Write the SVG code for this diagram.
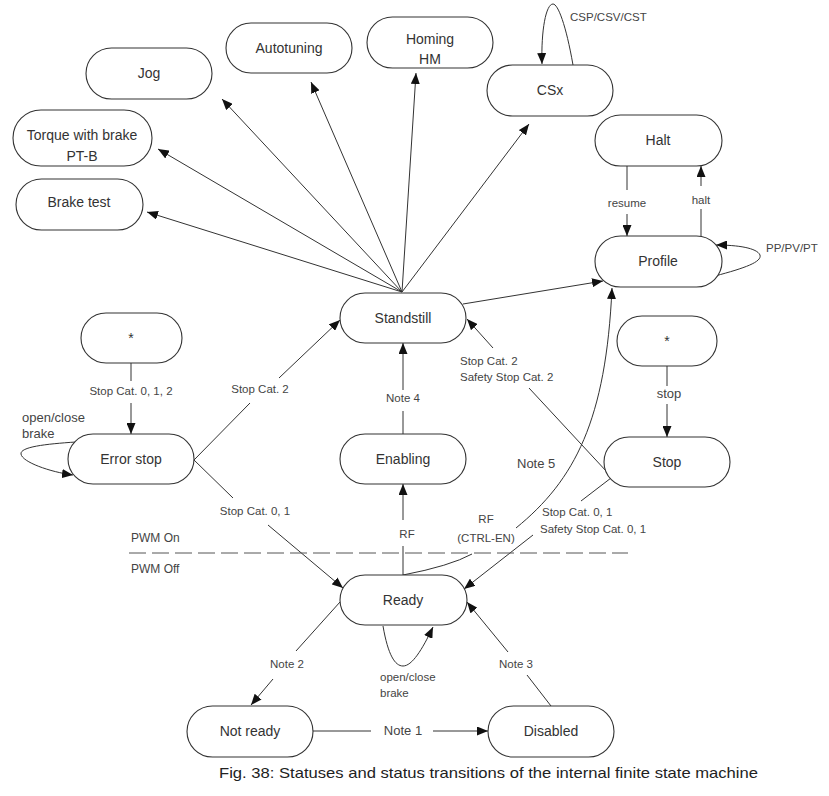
<svg xmlns="http://www.w3.org/2000/svg" width="829" height="796" viewBox="0 0 829 796">
<defs>
<style>
.n rect{fill:#fff;stroke:#333;stroke-width:1.1}
.t{font-family:"Liberation Sans",Arial,sans-serif;font-size:14px;fill:#333;text-anchor:middle}
.l{font-family:"Liberation Sans",Arial,sans-serif;font-size:11.5px;fill:#444}
.lm{text-anchor:middle}
.b{font-size:13px}
#edges path,#edges line{fill:none;stroke:#333;stroke-width:1}
</style>
<marker id="a" markerUnits="userSpaceOnUse" markerWidth="12" markerHeight="9" refX="11" refY="4.5" orient="auto">
<path d="M0,0 L11,4.5 L0,9 z" fill="#111"/>
</marker>
</defs>
<rect width="829" height="796" fill="#fff"/>

<g id="edges">
<line x1="402" y1="292" x2="147" y2="212" marker-end="url(#a)"/>
<line x1="402" y1="292" x2="158" y2="149" marker-end="url(#a)"/>
<line x1="402" y1="292" x2="222" y2="99" marker-end="url(#a)"/>
<line x1="402" y1="292" x2="311" y2="82" marker-end="url(#a)"/>
<line x1="402" y1="292" x2="416" y2="73" marker-end="url(#a)"/>
<line x1="402" y1="292" x2="529" y2="124" marker-end="url(#a)"/>
<line x1="463" y1="304" x2="603" y2="281" marker-end="url(#a)"/>
<path d="M573,65 C566,25 558,4 553,4 C546,4 541,30 542,64" marker-end="url(#a)"/>
<line x1="627" y1="166" x2="627" y2="190"/>
<line x1="627" y1="214" x2="627" y2="236" marker-end="url(#a)"/>
<line x1="701" y1="236" x2="701" y2="209"/>
<line x1="701" y1="186" x2="701" y2="166" marker-end="url(#a)"/>
<path d="M715,276 C745,268 762,262 760,255 C757,248 738,245 716,245" marker-end="url(#a)"/>
<line x1="131" y1="363" x2="131" y2="381"/>
<line x1="131" y1="403" x2="131" y2="434" marker-end="url(#a)"/>
<path d="M76,442 C45,444 20,447 21,454 C22,462 50,472 73,475" marker-end="url(#a)"/>
<line x1="194" y1="460" x2="250" y2="403"/>
<line x1="279" y1="378" x2="340" y2="320" marker-end="url(#a)"/>
<line x1="194" y1="460" x2="233" y2="498"/>
<line x1="268" y1="525" x2="343" y2="588" marker-end="url(#a)"/>
<line x1="403" y1="434" x2="403" y2="411"/>
<line x1="403" y1="390" x2="403" y2="343" marker-end="url(#a)"/>
<line x1="403" y1="575" x2="403" y2="546"/>
<line x1="403" y1="520" x2="403" y2="484" marker-end="url(#a)"/>
<path d="M403,575 Q450,566 472,554"/>
<path d="M516,528 C575,480 606,420 612,288" marker-end="url(#a)"/>
<line x1="607" y1="472" x2="529" y2="388"/>
<line x1="493" y1="348" x2="467" y2="319" marker-end="url(#a)"/>
<line x1="611" y1="478" x2="581" y2="501"/>
<line x1="533" y1="535" x2="464" y2="589" marker-end="url(#a)"/>
<line x1="667" y1="366" x2="667" y2="386"/>
<line x1="667" y1="404" x2="667" y2="437" marker-end="url(#a)"/>
<line x1="340" y1="602" x2="296" y2="651"/>
<line x1="273" y1="679" x2="251" y2="705" marker-end="url(#a)"/>
<line x1="551" y1="706" x2="527" y2="675"/>
<line x1="508" y1="652" x2="467" y2="602" marker-end="url(#a)"/>
<line x1="313" y1="731" x2="371" y2="731"/>
<line x1="433" y1="731" x2="488" y2="731" marker-end="url(#a)"/>
<path d="M383,626 C388,655 395,666 403,666 C412,666 422,650 433,627" marker-end="url(#a)"/>
</g>

<line x1="129" y1="553" x2="628" y2="553" stroke="#555" stroke-width="1" stroke-dasharray="17 6"/>

<g id="n-jog" class="n"><rect x="86" y="48" width="126" height="51" rx="25.5"/><text class="t" x="149" y="78">Jog</text></g>
<g id="n-autotuning" class="n"><rect x="226" y="23" width="126" height="50" rx="25"/><text class="t" x="289" y="53">Autotuning</text></g>
<g id="n-homing" class="n"><rect x="367" y="17" width="126" height="51" rx="25.5"/><text class="t" x="430" y="44">Homing</text><text class="t" x="430" y="64">HM</text></g>
<g id="n-csx" class="n"><rect x="487" y="65" width="126" height="51" rx="25.5"/><text class="t" x="550" y="95">CSx</text></g>
<g id="n-halt" class="n"><rect x="595" y="115" width="127" height="51" rx="25.5"/><text class="t" x="658" y="145">Halt</text></g>
<g id="n-profile" class="n"><rect x="595" y="236" width="127" height="51" rx="25.5"/><text class="t" x="658" y="266">Profile</text></g>
<g id="n-torque" class="n"><rect x="13" y="110" width="139" height="56" rx="28"/><text class="t" x="82" y="140">Torque with brake</text><text class="t" x="82" y="161">PT-B</text></g>
<g id="n-braketest" class="n"><rect x="16" y="179" width="127" height="51" rx="25.5"/><text class="t" x="79" y="207">Brake test</text></g>
<g id="n-standstill" class="n"><rect x="340" y="293" width="126" height="50" rx="25"/><text class="t" x="403" y="323">Standstill</text></g>
<g id="n-star-left" class="n"><rect x="81" y="313" width="101" height="50" rx="25"/><text class="t" x="131" y="343">*</text></g>
<g id="n-errorstop" class="n"><rect x="68" y="434" width="126" height="50" rx="25"/><text class="t" x="131" y="464">Error stop</text></g>
<g id="n-enabling" class="n"><rect x="340" y="434" width="126" height="50" rx="25"/><text class="t" x="403" y="464">Enabling</text></g>
<g id="n-star-right" class="n"><rect x="617" y="316" width="100" height="50" rx="25"/><text class="t" x="667" y="346">*</text></g>
<g id="n-stop" class="n"><rect x="604" y="437" width="126" height="50" rx="25"/><text class="t" x="667" y="467">Stop</text></g>
<g id="n-ready" class="n"><rect x="340" y="575" width="127" height="50" rx="25"/><text class="t" x="403" y="605">Ready</text></g>
<g id="n-notready" class="n"><rect x="187" y="706" width="126" height="51" rx="25.5"/><text class="t" x="250" y="736">Not ready</text></g>
<g id="n-disabled" class="n"><rect x="488" y="706" width="126" height="51" rx="25.5"/><text class="t" x="551" y="736">Disabled</text></g>

<g id="labels">
<text class="l" x="570" y="21">CSP/CSV/CST</text>
<text class="l lm" x="627" y="207">resume</text>
<text class="l lm" x="701" y="204">halt</text>
<text class="l" x="766" y="252">PP/PV/PT</text>
<text class="l lm" x="131" y="395">Stop Cat. 0, 1, 2</text>
<text class="l b" x="22" y="422">open/close</text>
<text class="l b" x="22" y="438">brake</text>
<text class="l lm" x="260" y="393">Stop Cat. 2</text>
<text class="l lm" x="255" y="515">Stop Cat. 0, 1</text>
<text class="l lm" x="403" y="402">Note 4</text>
<text class="l lm" x="407" y="538">RF</text>
<text class="l lm" x="486" y="523">RF</text>
<text class="l lm" x="486" y="542">(CTRL-EN)</text>
<text class="l b" x="517" y="468">Note 5</text>
<text class="l" x="460" y="365">Stop Cat. 2</text>
<text class="l" x="460" y="381">Safety Stop Cat. 2</text>
<text class="l lm b" x="669" y="398">stop</text>
<text class="l" x="542" y="516">Stop Cat. 0, 1</text>
<text class="l" x="540" y="533">Safety Stop Cat. 0, 1</text>
<text class="l lm" x="287" y="668">Note 2</text>
<text class="l lm" x="516" y="668">Note 3</text>
<text class="l lm b" x="403" y="735">Note 1</text>
<text class="l" x="380" y="681">open/close</text>
<text class="l" x="380" y="697">brake</text>
<text class="l" x="131" y="542" style="font-size:12px">PWM On</text>
<text class="l" x="131" y="573" style="font-size:12px">PWM Off</text>
<text x="219" y="778" style="font-family:'Liberation Sans',Arial,sans-serif;font-size:15px;fill:#222" textLength="539" lengthAdjust="spacingAndGlyphs">Fig. 38: Statuses and status transitions of the internal finite state machine</text>
</g>
</svg>
